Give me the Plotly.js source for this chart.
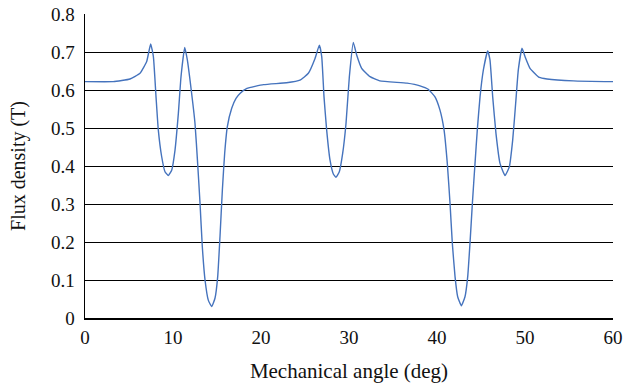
<!DOCTYPE html>
<html><head><meta charset="utf-8">
<script src="https://cdn.plot.ly/plotly-3.0.1.min.js"></script>
<style>html,body{margin:0;padding:0;background:#fff}#c{width:626px;height:385px}</style>
</head><body><div id="c"></div>
<script>
const angle = [0,3.2,5.11,6.25,7.01,7.46,7.77,8.07,8.33,8.71,9.09,9.47,9.85,10.23,10.61,10.91,11.33,11.63,12.05,12.5,12.8,13.07,13.33,13.64,14.01,14.39,14.77,15.08,15.34,15.61,15.87,16.17,16.67,17.16,17.61,18.4,20.3,22.9,24.43,25.38,26.14,26.63,26.9,27.16,27.46,27.84,28.22,28.52,28.9,29.28,29.66,30.04,30.49,30.87,31.44,32.39,33.5,36.6,38.07,39.0,39.77,40.34,40.8,41.17,41.48,41.74,42.05,42.35,42.77,43.18,43.49,43.75,44.02,44.32,44.58,44.89,45.27,45.76,46.02,46.33,46.7,47.16,47.73,48.22,48.6,48.94,49.24,49.66,50.0,50.57,51.63,52.5,55.5,60];
const flux = [0.622,0.622,0.629,0.644,0.675,0.721,0.688,0.582,0.495,0.425,0.385,0.375,0.389,0.442,0.539,0.635,0.712,0.679,0.604,0.512,0.407,0.302,0.188,0.1,0.047,0.030,0.052,0.109,0.214,0.337,0.433,0.503,0.552,0.578,0.591,0.604,0.614,0.619,0.626,0.644,0.683,0.718,0.688,0.582,0.495,0.416,0.379,0.370,0.385,0.433,0.512,0.635,0.725,0.692,0.657,0.635,0.624,0.618,0.611,0.602,0.582,0.547,0.495,0.407,0.302,0.197,0.109,0.056,0.032,0.056,0.109,0.197,0.302,0.407,0.495,0.582,0.653,0.703,0.679,0.582,0.486,0.407,0.375,0.398,0.468,0.565,0.653,0.710,0.688,0.657,0.633,0.629,0.624,0.622];
const xTicks = [0,10,20,30,40,50,60];
const yTicks = [0,0.1,0.2,0.3,0.4,0.5,0.6,0.7,0.8];
const yTickText = ['0','0.1','0.2','0.3','0.4','0.5','0.6','0.7','0.8'];
const fam = '"Liberation Serif","DejaVu Serif",serif';
Plotly.newPlot('c', [{
  x: angle, y: flux, type:'scatter', mode:'lines',
  line:{color:'#4573bd', width:1.4, shape:'spline', smoothing:0.4}
}], {
  width:626, height:385,
  margin:{l:85, r:13, t:14, b:67},
  paper_bgcolor:'#fff', plot_bgcolor:'#fff',
  showlegend:false,
  font:{family:fam, size:18, color:'#111'},
  xaxis:{range:[0,60], tickvals:xTicks, showgrid:false, zeroline:false,
    showline:true, linecolor:'#000', linewidth:1.5, ticks:'',
    ticklabelstandoff:2,
    tickfont:{family:fam, size:19, color:'#111'},
    title:{text:'Mechanical angle (deg)', font:{family:fam, size:21, color:'#111'}, standoff:16}},
  yaxis:{range:[0,0.8], tickvals:yTicks, ticktext:yTickText, showgrid:true, gridcolor:'#000', gridwidth:1,
    zeroline:false, showline:true, linecolor:'#000', linewidth:1.5, ticks:'',
    ticklabelstandoff:5,
    tickfont:{family:fam, size:19, color:'#111'},
    title:{text:'Flux density (T)', font:{family:fam, size:20, color:'#111'}, standoff:20}}
}, {staticPlot:true, displayModeBar:false});
</script></body></html>
